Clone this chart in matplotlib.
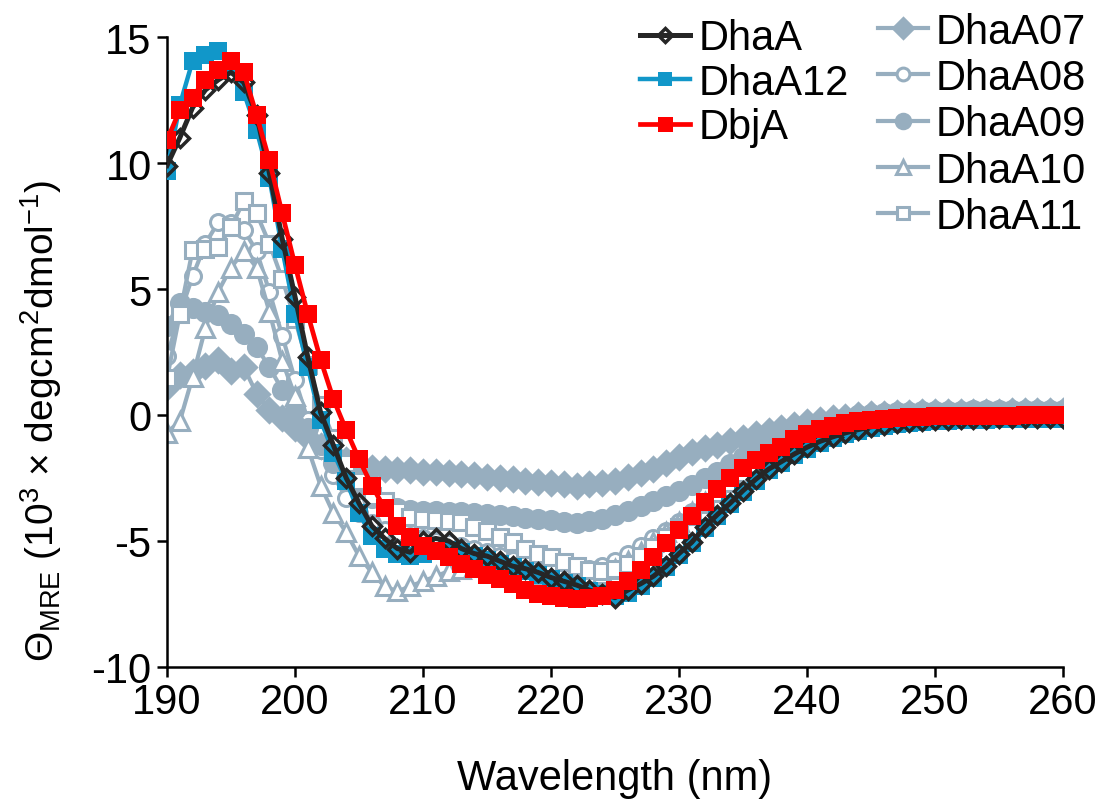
import matplotlib
matplotlib.use("Agg")
import matplotlib.pyplot as plt

plt.rcParams['font.family'] = ['Liberation Sans', 'DejaVu Sans']
plt.rcParams['mathtext.fontset'] = 'custom'
plt.rcParams['mathtext.rm'] = 'Liberation Sans'
plt.rcParams['mathtext.it'] = 'Liberation Sans'
plt.rcParams['mathtext.bf'] = 'Liberation Sans'

wavelength = list(range(190, 261))

DhaA = [9.9, 11.0, 12.2, 12.9, 13.3, 13.6, 13.2, 11.9, 9.6, 7.0,
        4.7, 2.3, 0.1, -1.2, -2.5, -3.5, -4.4, -4.9, -5.3, -5.45,
        -5.0, -4.9, -5.0, -5.3, -5.5, -5.6, -5.8, -6.0, -6.1, -6.25,
        -6.45, -6.6, -6.75, -6.95, -7.1, -7.25, -6.95, -6.7, -6.4, -6.0,
        -5.5, -5.05, -4.45, -3.95, -3.5, -3.0, -2.55, -2.15, -1.85, -1.55,
        -1.28, -1.05, -0.87, -0.71, -0.58, -0.47, -0.39, -0.32, -0.27, -0.23,
        -0.2, -0.18, -0.16, -0.15, -0.14, -0.13, -0.13, -0.12, -0.12, -0.11,
        -0.1]

DhaA12 = [9.7, 12.3, 14.05, 14.3, 14.45, 13.9, 12.8, 11.3, 9.4, 6.6,
          4.0, 1.9, -0.2, -1.5, -2.6, -3.9, -4.8, -5.3, -5.5, -5.6,
          -5.5, -5.4, -5.35, -5.45, -5.6, -5.75, -5.9, -6.05, -6.2, -6.35,
          -6.5, -6.65, -6.8, -7.0, -7.1, -7.2, -7.05, -6.8, -6.45, -6.05,
          -5.55, -5.1, -4.5, -4.0, -3.55, -3.05, -2.6, -2.2, -1.9, -1.6,
          -1.33, -1.1, -0.9, -0.75, -0.62, -0.52, -0.44, -0.37, -0.31, -0.27,
          -0.24, -0.22, -0.2, -0.19, -0.18, -0.17, -0.17, -0.16, -0.16, -0.15,
          -0.15]

DbjA = [10.9, 12.1, 12.6, 13.3, 13.7, 14.05, 13.6, 11.9, 10.1, 8.0,
        5.95, 4.0, 2.2, 0.63, -0.6, -1.75, -2.8, -3.7, -4.4, -4.85,
        -5.2, -5.4, -5.65, -5.9, -6.1, -6.35, -6.5, -6.7, -6.95, -7.1,
        -7.2, -7.28, -7.3, -7.28, -7.2, -6.95, -6.6, -6.15, -5.65, -5.1,
        -4.55, -4.0, -3.45, -2.95, -2.5, -2.1, -1.8, -1.5, -1.27, -0.97,
        -0.75, -0.57, -0.43, -0.32, -0.25, -0.18, -0.14, -0.11, -0.09, -0.07,
        -0.05, -0.05, -0.04, -0.04, -0.03, -0.03, -0.03, -0.02, -0.02, -0.02,
        -0.02]

DhaA07 = [1.1, 1.6, 1.7, 1.95, 2.2, 1.75, 1.9, 0.85, 0.2, -0.1,
          -0.5, -0.9, -1.25, -1.55, -1.8, -2.0, -2.1, -2.15, -2.2, -2.2,
          -2.25, -2.25, -2.3, -2.35, -2.4, -2.45, -2.5, -2.55, -2.6, -2.65,
          -2.7, -2.75, -2.8, -2.75, -2.7, -2.6, -2.45, -2.3, -2.15, -1.9,
          -1.65, -1.48, -1.32, -1.18, -1.04, -0.9, -0.76, -0.63, -0.5, -0.38,
          -0.27, -0.19, -0.12, -0.06, -0.02, 0.02, 0.05, 0.07, 0.09, 0.1,
          0.11, 0.12, 0.12, 0.13, 0.13, 0.13, 0.14, 0.14, 0.14, 0.15,
          0.15]

DhaA08 = [2.35, 4.0, 5.5, 6.8, 7.65, 7.6, 7.35, 6.5, 4.9, 3.15,
          1.4, -0.2, -1.4, -2.4, -3.3, -3.9, -4.3, -4.55, -4.7, -4.8,
          -4.9, -5.0, -5.1, -5.2, -5.3, -5.45, -5.6, -5.75, -5.9, -6.0,
          -6.1, -6.15, -6.15, -6.1, -6.0, -5.8, -5.5, -5.2, -4.9, -4.6,
          -4.25, -3.85, -3.45, -3.0, -2.6, -2.2, -1.85, -1.55, -1.25, -1.0,
          -0.8, -0.6, -0.45, -0.32, -0.22, -0.13, -0.06, 0.0, 0.04, 0.07,
          0.09, 0.1, 0.1, 0.11, 0.11, 0.11, 0.12, 0.12, 0.12, 0.12,
          0.12]

DhaA09 = [3.55, 4.45, 4.25, 4.1, 3.95, 3.6, 3.2, 2.7, 1.9, 1.0,
          0.2, -0.5, -1.2, -1.9, -2.5, -2.95, -3.3, -3.55, -3.7, -3.78,
          -3.82, -3.83, -3.84, -3.85, -3.88, -3.92, -3.97, -4.02, -4.08, -4.13,
          -4.18, -4.23, -4.27, -4.22, -4.12, -3.98, -3.8, -3.62, -3.43, -3.23,
          -3.03, -2.78, -2.52, -2.25, -1.95, -1.65, -1.38, -1.12, -0.88, -0.66,
          -0.47, -0.32, -0.2, -0.1, -0.02, 0.04, 0.08, 0.11, 0.13, 0.15,
          0.16, 0.17, 0.17, 0.18, 0.18, 0.18, 0.18, 0.19, 0.19, 0.19,
          0.19]

DhaA10 = [-0.7, -0.25, 1.5, 3.45, 4.9, 5.85, 6.5, 5.85, 4.1, 2.15,
          0.75, -1.3, -2.8, -3.9, -4.65, -5.6, -6.25, -6.8, -7.0, -6.8,
          -6.6, -6.4, -6.2, -6.1, -6.05, -6.05, -6.1, -6.2, -6.3, -6.4,
          -6.45, -6.5, -6.5, -6.45, -6.3, -6.1, -5.8, -5.45, -5.05, -4.65,
          -4.25, -3.85, -3.45, -3.05, -2.65, -2.25, -1.9, -1.6, -1.3, -1.05,
          -0.85, -0.65, -0.5, -0.37, -0.26, -0.17, -0.1, -0.04, 0.0, 0.03,
          0.05, 0.06, 0.07, 0.08, 0.08, 0.09, 0.09, 0.1, 0.1, 0.1,
          0.1]

DhaA11 = [1.45, 4.0, 6.55, 6.6, 6.65, 7.45, 8.5, 8.0, 6.8, 5.4,
          3.8, 2.0, 0.4, -0.9, -1.9, -2.6, -3.2, -3.4, -3.8, -4.05,
          -4.12, -4.18, -4.2, -4.26, -4.45, -4.6, -4.85, -5.05, -5.3, -5.5,
          -5.65, -5.85, -6.0, -6.15, -6.2, -6.1, -5.9, -5.6, -5.25, -4.85,
          -4.45, -4.0, -3.55, -3.1, -2.7, -2.3, -1.95, -1.65, -1.35, -1.1,
          -0.88, -0.68, -0.52, -0.38, -0.27, -0.18, -0.1, -0.04, 0.0, 0.03,
          0.05, 0.06, 0.07, 0.07, 0.08, 0.08, 0.08, 0.09, 0.09, 0.09,
          0.09]

x_ticks = [190, 200, 210, 220, 230, 240, 250, 260]
y_ticks = [-10, -5, 0, 5, 10, 15]

GRAY = '#97AEBF'
BLUE = '#1197C9'
RED = '#FF0000'
BLACK = '#262626'

fig = plt.figure(figsize=(11, 8.04), dpi=100)
ax = fig.add_axes([0.1518, 0.1692, 0.8146, 0.7835])

gray_series = [
    ('DhaA07', DhaA07, 'D', GRAY, 12.5),
    ('DhaA08', DhaA08, 'o', 'white', 11.5),
    ('DhaA09', DhaA09, 'o', GRAY, 13),
    ('DhaA10', DhaA10, '^', 'white', 12.5),
    ('DhaA11', DhaA11, 's', 'white', 11.5),
]
gray_handles = []
for name, vals, mk, fc, ms in gray_series:
    h, = ax.plot(wavelength, vals, color=GRAY, lw=3.0, marker=mk, ms=ms,
                 mfc=fc, mec=GRAY, mew=2.2, label=name, zorder=2)
    gray_handles.append(h)

hb, = ax.plot(wavelength, DhaA12, color=BLUE, lw=3.2, marker='s', ms=12.5,
              mfc=BLUE, mec=BLUE, mew=0, label='DhaA12', zorder=3)
hk, = ax.plot(wavelength, DhaA, color=BLACK, lw=3.6, marker='D', ms=9.5,
              mfc='none', mec=BLACK, mew=2.5, label='DhaA', zorder=4)
hr, = ax.plot(wavelength, DbjA, color=RED, lw=3.4, marker='s', ms=13.5,
              mfc=RED, mec=RED, mew=0, label='DbjA', zorder=5)

ax.set_xlim(190, 260)
ax.set_ylim(-10, 15)
ax.set_xticks(x_ticks)
ax.set_yticks(y_ticks)
ax.set_yticklabels([str(v) for v in y_ticks])
for s in ['top', 'right']:
    ax.spines[s].set_visible(False)
for s in ['left', 'bottom']:
    ax.spines[s].set_linewidth(1.8)
    ax.spines[s].set_color('black')
ax.tick_params(axis='both', direction='out', length=7, width=1.8,
               labelsize=30, colors='black', pad=4)

ax.set_xlabel('Wavelength (nm)', fontsize=30, labelpad=26)
ax.set_ylabel(r'$\Theta_{\mathregular{MRE}}$ (10$^{\mathregular{3}}$ × degcm$^{\mathregular{2}}$dmol$^{\mathregular{-1}}$)',
              fontsize=28)
ax.yaxis.set_label_coords(-0.115, 0.392)

leg1 = ax.legend(handles=[hk, hb, hr], loc='upper left',
                 bbox_to_anchor=(0.528, 1.03), frameon=False, fontsize=30,
                 handlelength=1.2, handletextpad=0.2, labelspacing=0.11,
                 borderaxespad=0, borderpad=0, markerscale=0.8)
ax.add_artist(leg1)
leg2 = ax.legend(handles=gray_handles, loc='upper left',
                 bbox_to_anchor=(0.793, 1.04), frameon=False, fontsize=30,
                 handlelength=1.2, handletextpad=0.2, labelspacing=0.15,
                 borderaxespad=0, borderpad=0, markerscale=0.8)

fig.savefig('out.png', dpi=100)
